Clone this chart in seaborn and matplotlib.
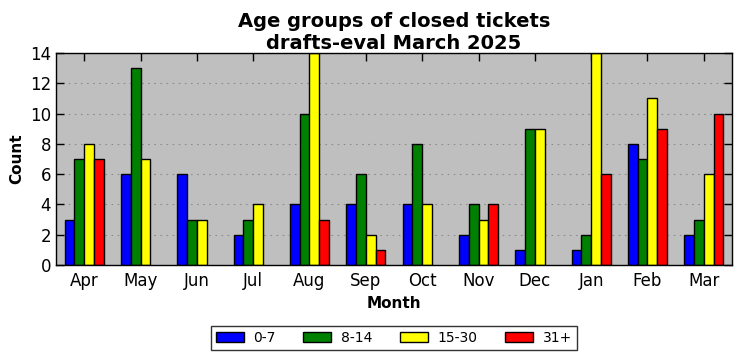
import matplotlib
matplotlib.use("Agg")
import matplotlib.pyplot as plt
from matplotlib.patches import Patch
import seaborn as sns
import pandas as pd

months = ["Apr", "May", "Jun", "Jul", "Aug", "Sep", "Oct", "Nov", "Dec", "Jan", "Feb", "Mar"]
groups = ["0-7", "8-14", "15-30", "31+"]
age_0_7 = [3, 6, 6, 2, 4, 4, 4, 2, 1, 1, 8, 2]
age_8_14 = [7, 13, 3, 3, 10, 6, 8, 4, 9, 2, 7, 3]
age_15_30 = [8, 7, 3, 4, 14, 2, 4, 3, 9, 14, 11, 6]
age_31p = [7, 0, 0, 0, 3, 1, 0, 4, 0, 6, 9, 10]
colors = ["#0000ff", "#008000", "#ffff00", "#ff0000"]

rows = []
for g, vals in zip(groups, [age_0_7, age_8_14, age_15_30, age_31p]):
    for m, v in zip(months, vals):
        rows.append({"Month": m, "Group": g, "Count": v})
df = pd.DataFrame(rows)

sns.set_style("white")
plt.rcParams["font.family"] = ["DejaVu Sans"]
plt.rcParams["text.color"] = "black"
plt.rcParams["axes.labelcolor"] = "black"
plt.rcParams["xtick.color"] = "black"
plt.rcParams["ytick.color"] = "black"

fig = plt.figure(figsize=(7.41, 3.61), dpi=100)
ax = fig.add_axes([56/741, 1-265/361, (732-56)/741, (265-53)/361])
ax.set_facecolor("#bfbfbf")
sns.barplot(data=df, x="Month", y="Count", hue="Group", order=months, hue_order=groups,
            palette=colors, width=0.69, dodge=True, ax=ax, edgecolor="black", linewidth=1,
            saturation=1, legend=False)
for p in ax.patches:
    if p.get_height() == 0:
        p.set_visible(False)
ax.set_xlim(-0.5, 11.5)
ax.set_ylim(0, 14)
ax.set_yticks(range(0, 15, 2))
ax.yaxis.grid(True, linestyle=(0, (1.5, 4)), color="#8c8c8c", linewidth=0.8)
ax.set_axisbelow(True)
ax.tick_params(axis="both", direction="in", length=6, width=1, top=True, right=True,
               labelsize=12, bottom=True, left=True, color="black", labelcolor="black")
ax.tick_params(axis="x", pad=5)
for s in ax.spines.values():
    s.set_color("black")
    s.set_linewidth(1)
ax.set_xlabel("Month", fontsize=11, fontweight="bold", color="black")
ax.set_ylabel("Count", fontsize=11, fontweight="bold", color="black")
ax.set_title("Age groups of closed tickets\ndrafts-eval March 2025", fontsize=14,
             fontweight="bold", pad=3, color="black")

handles = [Patch(facecolor=c, edgecolor="black", linewidth=1, label=g) for c, g in zip(colors, groups)]
leg = ax.legend(handles=handles, loc="upper center", bbox_to_anchor=(0.5, -0.288), ncol=4,
                frameon=True, fancybox=False, edgecolor="black", fontsize=10,
                handlelength=2.0, handleheight=0.7, handletextpad=0.7,
                columnspacing=2.0, borderpad=0.35, borderaxespad=0)
leg.get_frame().set_linewidth(1)
for t in leg.get_texts():
    t.set_color("black")

fig.savefig("out.png", dpi=100)
